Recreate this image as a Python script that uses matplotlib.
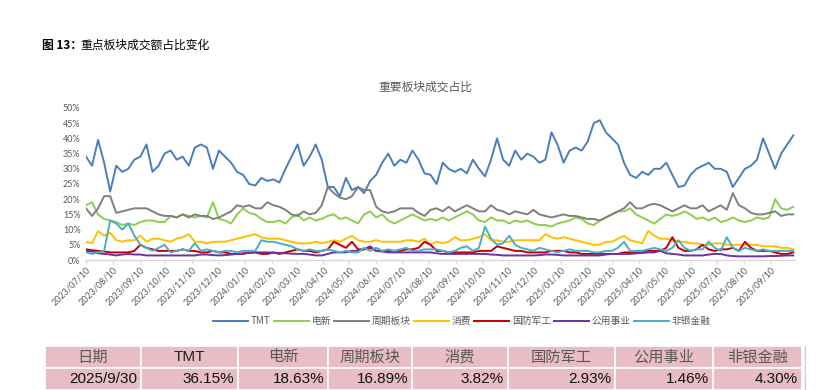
import matplotlib
matplotlib.use("Agg")
import matplotlib.pyplot as plt
import matplotlib.dates as mdates
from matplotlib.patches import Rectangle
import pandas as pd

plt.rcParams['font.family'] = ['Noto Sans CJK SC', 'DejaVu Sans']

# weekly sampling dates (at weekly spacing)
start_date = "2023-07-10"
n_weeks = 118
end_date = "2025-10-08"

series_names = ["TMT", "电新", "周期板块", "消费", "国防军工", "公用事业", "非银金融"]

tmt = [34, 31, 39.5, 32, 22.5, 31, 29, 30, 33, 34, 38, 29, 31, 35, 36, 33, 34, 31, 37, 38,
       37, 30, 36, 34, 32, 29, 28, 25, 24.5, 27, 26, 26.5, 25.5, 30, 34, 38, 31, 34, 38, 33,
       24, 24, 21, 27, 23, 24, 22, 26, 28, 32, 35, 31, 33, 32, 36, 33, 28.5, 28, 25, 32,
       30, 29, 30, 28.5, 33, 30, 27.5, 33, 40, 33, 31, 36, 33, 35, 34, 32, 33, 42, 38, 32,
       36, 37, 36, 39, 45, 46, 42, 40, 38, 32, 28, 27, 29, 28, 30, 30, 32, 28, 24, 24.5,
       28, 30, 31, 32, 30, 30, 29, 24, 27, 30, 31, 33, 40, 35, 30, 35, 38, 41]
dianxin = [18, 19, 15, 13.5, 13, 12.5, 11.5, 12, 11.5, 12.5, 13, 13, 12.5, 12.5, 14.5, 14, 15, 14.5, 14, 14.5,
           14, 19, 13.5, 13, 12, 15, 17, 15.5, 15, 13.5, 12.5, 12.5, 13, 12, 14, 15, 13, 14, 13, 13.5,
           14.5, 15, 13.5, 14, 13, 12, 15, 16, 14, 15, 13, 12, 13, 14, 15, 14, 13, 13.5, 13, 14,
           13, 14, 15, 16, 15, 13, 12.5, 14, 13, 13, 12, 13, 12.5, 13, 12, 11.5, 11.5, 11, 12, 12.5,
           13, 14, 13.5, 12, 11.5, 13, 14, 15, 16, 16, 17, 15, 14, 13, 12, 13.5, 15, 14.5, 15, 16,
           15, 13.5, 14, 13, 14, 12.5, 13, 14, 13, 12.5, 13, 14, 13.5, 14, 20, 17, 16.5, 17.5]
zhouqi = [17, 14.5, 17, 21, 21, 15.5, 16, 16.5, 17, 17, 17, 16, 15, 14.5, 14.5, 14, 15, 14, 15, 14.5,
          14.5, 13.5, 14, 15, 16, 18, 17.5, 18, 17, 17, 19, 18, 17.5, 16.5, 15, 14.5, 16, 15, 15.5, 18,
          24, 22, 20.5, 20, 21, 24, 23, 23, 17.5, 16, 15.5, 16, 17, 17, 17, 15.5, 14.5, 16.5, 17, 16,
          17.5, 16, 17, 18, 17, 16, 16, 18, 16.5, 16, 15, 16, 15.5, 15, 16.5, 15, 14.5, 14, 14.5, 15,
          14.5, 14.5, 14, 13.5, 13.5, 13, 14, 15, 16, 17, 19, 17, 17, 18, 18.5, 18, 17, 16, 17, 18,
          17, 17, 18, 16, 17, 18, 16.5, 22, 18, 17, 15.5, 15, 15, 15.5, 16, 14.5, 15, 15]
xiaofei = [6, 5.5, 9.5, 8, 9, 6.5, 6, 6.5, 6.5, 8, 6, 7, 7, 6.5, 6, 7, 7.5, 8.5, 6, 6,
           5.5, 6, 6, 6, 6.5, 7, 7.5, 8, 8.5, 7.5, 7, 7, 7, 6.5, 6, 5.5, 5.5, 5.5, 6, 5.5,
           6, 6.5, 6, 7, 8, 6.5, 6, 6, 6.5, 6, 6, 6, 6, 6.5, 6.5, 6, 7, 5, 6, 5.5,
           6, 7.5, 6.5, 6.5, 7, 7.5, 8.5, 6.5, 6.5, 6, 6, 6.5, 6.5, 6.5, 6.5, 6.5, 8.5, 7.5, 7, 7.5,
           7, 6.5, 6, 5.5, 5, 5, 6, 6, 7, 8, 6.5, 6, 5.5, 9.5, 8, 7, 7, 6.5, 6, 6,
           5.5, 5.5, 5, 5, 5.5, 5.5, 5, 5, 5, 5, 5, 5, 4.5, 4.5, 4.5, 4, 4, 3.5]
guofang = [3.5, 3.2, 3, 2.8, 2.5, 2.5, 2.5, 2.5, 3, 5, 4, 3.5, 3, 3, 3, 3, 3.5, 3, 3, 2.5,
           2.5, 3, 2.5, 2.5, 2, 2, 2, 2.5, 2.5, 2, 2, 2.5, 2, 2.5, 3, 3.5, 3, 3, 2.5, 3,
           3.5, 6, 5, 4, 6, 3.5, 3.5, 4, 3, 3, 3, 3, 3, 3.5, 3.5, 4, 6, 5, 3, 3,
           2.5, 2.5, 2.5, 2.5, 2.5, 3, 3, 3, 4.5, 4, 3.5, 3, 3, 2.5, 2.5, 2.5, 2.5, 3, 3, 3,
           2.5, 2.5, 2, 2, 2, 2, 2, 2, 2, 2.5, 2.5, 2.5, 3, 3, 3, 3, 4, 7.5, 4, 3,
           3, 3.5, 5, 3.5, 3, 3.5, 3.5, 4, 3, 6, 4, 3, 3, 3, 2.5, 2, 2, 2.5]
gongyong = [3, 2.8, 2.2, 2, 1.8, 1.5, 1.8, 2, 1.8, 1.8, 1.5, 1.5, 1.5, 1.5, 1.5, 1.5, 1.5, 1.5, 1.5, 1.8,
            1.8, 1.6, 1.5, 1.6, 1.8, 2, 2.2, 2.3, 2.5, 2.5, 2.5, 2.4, 2.3, 2.2, 2.1, 2, 2, 1.8, 1.5, 1.5,
            2, 2.5, 2.5, 2.5, 3, 3, 3.5, 4.5, 3, 2.8, 2.5, 2.5, 2.5, 2.5, 2.5, 2.5, 2.5, 2.5, 2.2, 2,
            2, 2, 2, 2, 2, 2, 2, 1.8, 1.7, 1.5, 1.5, 1.5, 1.5, 1.5, 1.5, 1.6, 1.8, 1.8, 1.7, 1.5,
            1.5, 1.5, 1.5, 1.5, 1.5, 1.5, 1.8, 2, 2, 2, 2, 2.2, 2.3, 2.5, 2.5, 3, 2.2, 2, 1.8, 1.5,
            1.5, 1.5, 1.5, 1.8, 2, 2, 1.5, 1.3, 1.2, 1.2, 1.2, 1.2, 1.2, 1.3, 1.3, 1.4, 1.5, 1.5]
feiyin = [2.5, 2, 2.5, 3, 13, 12, 10, 12, 8, 5, 4, 3, 4, 5, 2.5, 3, 3.5, 3, 5.5, 3,
          3.5, 3, 2.5, 3, 3, 2.5, 3, 3, 3, 6.5, 6, 6, 5.5, 5, 4.5, 3.5, 3, 3.5, 3, 3,
          3.5, 3, 2.5, 3, 2.5, 2.5, 4, 3, 4, 3, 3.5, 3, 3.5, 4, 3, 3, 3.5, 3.5, 3.5, 3,
          2.5, 3, 4, 4.5, 3, 4, 11, 7, 5, 5.5, 8, 5, 4, 3.5, 3, 4, 3.5, 3, 2.5, 3,
          3.5, 3, 3, 3, 2.5, 2.5, 3, 3, 4, 6, 3, 3, 3, 3.5, 4, 3.5, 3, 4, 6.5, 4,
          3, 3.5, 3.5, 6, 4, 3, 7.5, 4, 3, 4, 3.5, 3, 3.5, 3, 3, 3, 3, 3]

colors = ["#4A7EBB", "#8CCE4E", "#7F7F7F", "#FFC000", "#C00000", "#7030A0", "#4BACC6"]

# table data
table_header = ["日期", "TMT", "电新", "周期板块", "消费", "国防军工", "公用事业", "非银金融"]
table_values = ["2025/9/30", "36.15%", "18.63%", "16.89%", "3.82%", "2.93%", "1.46%", "4.30%"]

W, H = 835, 390
fig = plt.figure(figsize=(W / 100, H / 100), dpi=100)
ax = fig.add_axes([86 / W, 1 - 260 / H, (795 - 86) / W, (260 - 108) / H])

dates = pd.date_range(start_date, periods=n_weeks, freq="7D")
all_series = [tmt, dianxin, zhouqi, xiaofei, guofang, gongyong, feiyin]
for name, vals, c in zip(series_names, all_series, colors):
    ax.plot(dates, [v / 100 for v in vals], color=c, lw=1.4, label=name)

ax.set_ylim(0, 0.5)
ax.set_xlim(pd.Timestamp(start_date), pd.Timestamp(end_date))
ax.set_yticks([i / 20 for i in range(11)])
ax.set_yticklabels([f"{i * 5}%" for i in range(11)])
ax.xaxis.set_major_locator(mdates.MonthLocator(bymonthday=10))
ax.xaxis.set_major_formatter(mdates.DateFormatter("%Y/%m/%d"))
for s in ["top", "right", "left"]:
    ax.spines[s].set_visible(False)
ax.spines["bottom"].set_color("#D9D9D9")
ax.spines["bottom"].set_linewidth(1.0)
ax.tick_params(axis="y", length=0, labelsize=6.5, labelcolor="#595959", pad=4)
ax.tick_params(axis="x", length=3, color="#D9D9D9", labelsize=6.5, labelcolor="#595959", pad=1)
for lab in ax.get_xticklabels():
    lab.set_rotation(45)
    lab.set_ha("right")
    lab.set_rotation_mode("anchor")
for lab in ax.get_xticklabels() + ax.get_yticklabels():
    lab.set_fontfamily(["Lato", "DejaVu Sans"])

leg = ax.legend(loc="center", bbox_to_anchor=(462 / W, 1 - 321 / H), bbox_transform=fig.transFigure,
                ncol=7, frameon=False, fontsize=7, handlelength=3.6, handletextpad=0.3,
                columnspacing=0.3, borderpad=0)
for t in leg.get_texts():
    t.set_color("#595959")

# titles
fig.text(42 / W, 1 - 45 / H, "图 13：", fontsize=8.5, fontweight="bold", ha="left", va="center")
fig.text(80 / W, 1 - 45 / H, "重点板块成交额占比变化", fontsize=8.5, ha="left", va="center")
fig.text(425 / W, 1 - 87 / H, "重要板块成交占比", fontsize=8.5, color="#595959", ha="center", va="center")

# table
col_edges = [45, 141, 238, 328, 412, 508, 615, 713, 802]
row_edges = [346, 368, 390]
for r in range(2):
    for c in range(8):
        x0, x1 = col_edges[c], col_edges[c + 1]
        y0, y1 = row_edges[r], row_edges[r + 1]
        fig.patches.append(Rectangle((x0 / W, 1 - y1 / H), (x1 - x0) / W, (y1 - y0) / H,
                                     transform=fig.transFigure, facecolor="#E9BDC6",
                                     edgecolor="white", lw=1.2))
for c in range(8):
    x0, x1 = col_edges[c], col_edges[c + 1]
    yc = 1 - (row_edges[0] + row_edges[1]) / 2 / H
    if table_header[c] == "TMT":
        fig.text((x0 + x1) / 2 / W, yc, table_header[c], fontsize=11, ha="center", va="center",
                 family=["Liberation Sans"], color="#222222")
    else:
        fig.text((x0 + x1) / 2 / W, yc, table_header[c], fontsize=11, ha="center", va="center",
                 color="#595959")
    yc2 = 1 - (row_edges[1] + row_edges[2]) / 2 / H
    fig.text((x1 - 4) / W, yc2, table_values[c], fontsize=11, ha="right", va="center",
             family=["Liberation Sans"], color="#111111")
fig.lines.append(plt.Line2D([805 / W, 805 / W], [0, 1 - 346 / H], transform=fig.transFigure,
                            color="#D0D0D0", lw=1))

fig.savefig("out.png", dpi=100)
